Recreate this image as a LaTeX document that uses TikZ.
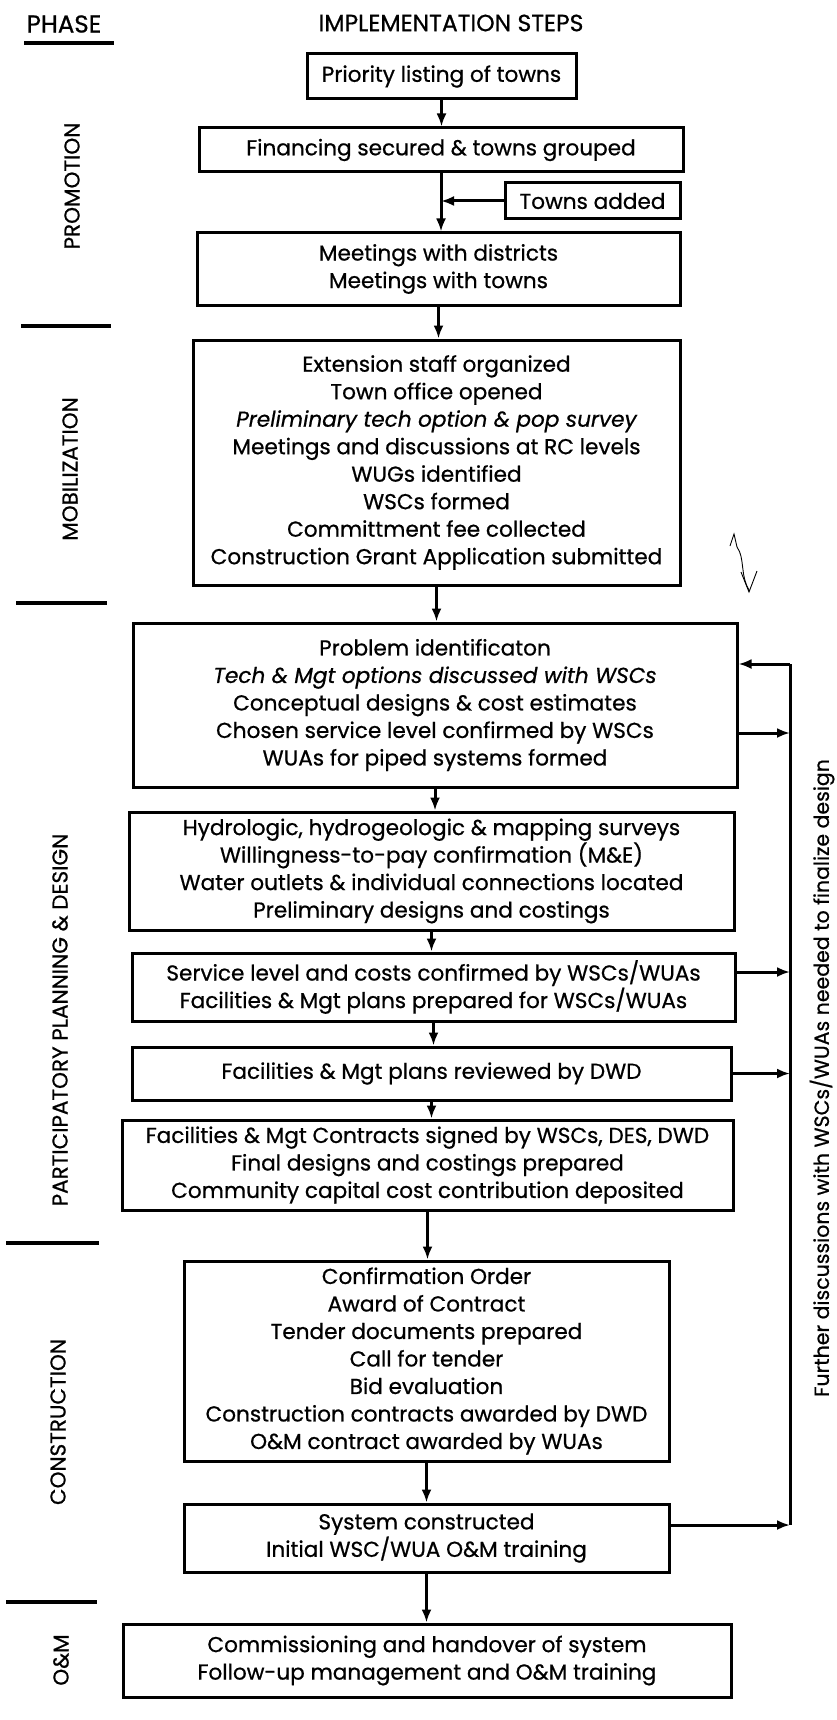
\documentclass[tikz,border=0pt]{standalone}
\usepackage{fontspec}
\setmainfont{Poppins}[FakeBold=0.7]
\usepackage{tikz}
\usetikzlibrary{arrows.meta,positioning,calc}

\begin{document}
\begin{tikzpicture}[x=1pt, y=-1pt, every node/.style={align=center},
    stepbox/.style={draw, line width=3pt, inner sep=0pt, font=\fontsize{21.6}{27.5}\selectfont},
    phaselabel/.style={rotate=90, font=\fontsize{21.5}{24}\selectfont},
    flow/.style={-{Latex[length=13pt, width=10pt]}, line width=3pt},
    sepline/.style={line width=3.2pt}]
  \useasboundingbox (0,0) rectangle (837,1720);
  % Headings
  \node[font=\fontsize{24.5}{26}\selectfont] (phase) at (64,24) {PHASE};
  \node[font=\fontsize{23.5}{26}\selectfont] (steps) at (451,23) {IMPLEMENTATION STEPS};
  \draw[sepline] (24,43) -- (114,43);
  % Phase column
  \node[phaselabel] (promo) at (72,186) {PROMOTION};
  \draw[sepline] (21,326) -- (111,326);
  \node[phaselabel] (mobiliz) at (70,469) {MOBILIZATION};
  \draw[sepline] (16,603) -- (107,603);
  \node[phaselabel] (ppd) at (60,1020) {PARTICIPATORY PLANNING \& DESIGN};
  \draw[sepline] (6,1243) -- (99,1243);
  \node[phaselabel] (constrlbl) at (58,1422) {CONSTRUCTION};
  \draw[sepline] (6,1602) -- (97,1602);
  \node[phaselabel] (omlbl) at (61,1660) {O\&M};
  % Promotion
  \node[stepbox, minimum width=269, minimum height=45] (prio) at (441.5,76.5) {Priority listing of towns};
  \node[stepbox, minimum width=484, minimum height=44] (finance) at (441,150) {Financing secured \& towns grouped};
  \node[stepbox, minimum width=175, minimum height=36] (towns) at (592.5,201) {Towns added};
  \node[stepbox, minimum width=483, minimum height=72] (meet) at (438.5,269) {Meetings with districts\\Meetings with towns};
  % Mobilization
  \node[stepbox, minimum width=487, minimum height=245] (mobil) at (436.5,462.5) {%
    Extension staff organized\\
    Town office opened\\
    {\itshape Preliminary tech option \& pop survey}\\
    Meetings and discussions at RC levels\\
    WUGs identified\\
    WSCs formed\\
    Committment fee collected\\
    Construction Grant Application submitted};
  % Participatory planning & design
  \node[stepbox, minimum width=604, minimum height=164] (problem) at (435,705) {%
    Problem identificaton\\
    {\itshape Tech \& Mgt options discussed with WSCs}\\
    Conceptual designs \& cost estimates\\
    Chosen service level confirmed by WSCs\\
    WUAs for piped systems formed};
  \node[stepbox, minimum width=605, minimum height=118] (hydro) at (431.5,871) {%
    Hydrologic, hydrogeologic \& mapping surveys\\
    Willingness-to-pay confirmation (M\&E)\\
    Water outlets \& individual connections located\\
    Preliminary designs and costings};
  \node[stepbox, minimum width=603, minimum height=68] (service) at (433.5,987) {%
    Service level and costs confirmed by WSCs/WUAs\\
    Facilities \& Mgt plans prepared for WSCs/WUAs};
  \node[stepbox, minimum width=599, minimum height=53] (review) at (431.5,1073.5) {Facilities \& Mgt plans reviewed by DWD};
  \node[stepbox, minimum width=611, minimum height=90] (contract) at (427.5,1165) {%
    Facilities \& Mgt Contracts signed by WSCs, DES, DWD\\
    Final designs and costings prepared\\
    Community capital cost contribution deposited};
  % Construction
  \node[stepbox, minimum width=485, minimum height=200] (constr) at (426.5,1361) {%
    Confirmation Order\\
    Award of Contract\\
    Tender documents prepared\\
    Call for tender\\
    Bid evaluation\\
    Construction contracts awarded by DWD\\
    O\&M contract awarded by WUAs};
  \node[stepbox, minimum width=485, minimum height=68] (system) at (426.5,1538) {%
    System constructed\\
    Initial WSC/WUA O\&M training};
  % O&M
  \node[stepbox, minimum width=608, minimum height=73] (om) at (427,1660.5) {%
    Commissioning and handover of system\\
    Follow-up management and O\&M training};
  % Feedback loop
  \coordinate (fb) at (790,664);
  \coordinate (fbend) at (790,1525);
  \node[rotate=90, font=\fontsize{20.5}{22}\selectfont] (further) at (822,1078) {Further discussions with WSCs/WUAs needed to finalize design};
  % Connections
  \draw[flow] (prio.south) -- (prio.south |- finance.north);
  \draw[flow] (finance.south) -- (finance.south |- meet.north);
  \draw[flow] (towns.west) -- (towns.west -| finance.south);
  \draw[flow] (meet.south) -- (meet.south |- mobil.north);
  \draw[flow] (mobil.south) -- (mobil.south |- problem.north);
  \draw[flow] (problem.south) -- (problem.south |- hydro.north);
  \draw[flow] (hydro.south) -- (hydro.south |- service.north);
  \draw[flow] (service.south) -- (service.south |- review.north);
  \draw[flow] (review.south) -- (review.south |- contract.north);
  \draw[flow] (contract.south) -- (contract.south |- constr.north);
  \draw[flow] (constr.south) -- (constr.south |- system.north);
  \draw[flow] (system.south) -- (system.south |- om.north);
  \draw[line width=3pt] (fbend) -- (fb);
  \draw[flow] (fb) -- (fb -| problem.east);
  \draw[flow] ([yshift=-28pt]problem.east) -- ([yshift=-28pt]problem.east -| fb);
  \draw[flow] ([yshift=15pt]service.east) -- ([yshift=15pt]service.east -| fb);
  \draw[flow] (review.east) -- (review.east -| fb);
  \draw[flow] ([yshift=13pt]system.east) -- (fbend);
  % pencil mark
  \draw[line width=0.9pt] (730,546) -- (734,534) -- (737,547) .. controls (745,558) and (740,575) .. (749,590);
  \draw[line width=0.9pt] (741,572) -- (749,592) -- (757,571);
\end{tikzpicture}
\end{document}
